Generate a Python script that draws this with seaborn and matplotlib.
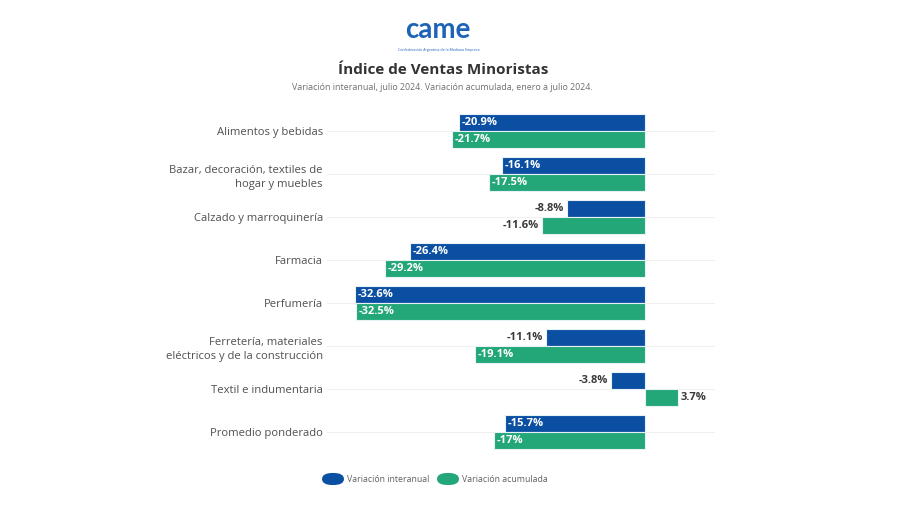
import pandas as pd
import matplotlib.pyplot as plt
from matplotlib.patches import FancyBboxPatch
import seaborn as sns

# Data
categories = [
    "Alimentos y bebidas",
    "Bazar, decoración, textiles de\nhogar y muebles",
    "Calzado y marroquinería",
    "Farmacia",
    "Perfumería",
    "Ferretería, materiales\neléctricos y de la construcción",
    "Textil e indumentaria",
    "Promedio ponderado",
]
interanual = [-20.9, -16.1, -8.8, -26.4, -32.6, -11.1, -3.8, -15.7]
acumulada = [-21.7, -17.5, -11.6, -29.2, -32.5, -19.1, 3.7, -17.0]
interanual_labels = ["-20.9%", "-16.1%", "-8.8%", "-26.4%", "-32.6%", "-11.1%", "-3.8%", "-15.7%"]
acumulada_labels = ["-21.7%", "-17.5%", "-11.6%", "-29.2%", "-32.5%", "-19.1%", "3.7%", "-17%"]
series = ["Variación interanual", "Variación acumulada"]

BLUE = "#0b4fa3"
GREEN = "#23a778"

df = pd.DataFrame({
    "categoria": categories * 2,
    "serie": [series[0]] * len(categories) + [series[1]] * len(categories),
    "valor": interanual + acumulada,
})

sns.set_style("white")
plt.rcParams["font.family"] = ["Open Sans", "DejaVu Sans"]

fig = plt.figure(figsize=(9, 5.05), dpi=100)
ax = fig.add_axes([327 / 900, 1 - 453.5 / 505, (715 - 327) / 900, 344 / 505])

sns.barplot(data=df, y="categoria", x="valor", hue="serie", orient="h",
            palette=[BLUE, GREEN], saturation=1, width=0.8, edgecolor="#e8f1f6",
            linewidth=0.8, legend=False, ax=ax)

ax.set_xlim(-(645 - 327) / 8.9, (715 - 645) / 8.9)
ax.set_ylim(7.5, -0.5)
ax.set_xlabel("")
ax.set_ylabel("")
ax.set_xticks([])
ax.grid(axis="y", color="#f0f0f0", linewidth=0.8)
ax.set_axisbelow(True)
for s in ax.spines.values():
    s.set_visible(False)
ax.tick_params(axis="y", length=0, pad=3, labelsize=8.1, labelcolor="#505050")
for t in ax.get_yticklabels():
    t.set_linespacing(1.5)

# value labels
for cont, labels in zip(ax.containers, [interanual_labels, acumulada_labels]):
    for bar, lab in zip(cont, labels):
        v = bar.get_width()
        yc = bar.get_y() + bar.get_height() / 2
        if abs(v) >= 13:
            ax.text(v + 0.3, yc, lab, ha="left", va="center", color="white",
                    fontsize=8, fontweight="bold")
        elif v < 0:
            ax.text(v - 0.35, yc, lab, ha="right", va="center", color="#3a3a3a",
                    fontsize=8, fontweight="bold")
        else:
            ax.text(v + 0.35, yc, lab, ha="left", va="center", color="#3a3a3a",
                    fontsize=8, fontweight="bold")

# header: logo, title, subtitle
fig.text(0.487, 1 - 30 / 505, "came", ha="center", va="center", color="#1d63b8",
         fontsize=20, fontweight="bold", family=["Lato", "DejaVu Sans"])
fig.text(0.487, 1 - 50 / 505, "Confederación Argentina de la Mediana Empresa",
         ha="center", va="center", color="#1d63b8", fontsize=2.6)
fig.text(0.492, 1 - 70 / 505, "Índice de Ventas Minoristas", ha="center", va="center",
         color="#333333", fontsize=11, fontweight="bold")
fig.text(0.492, 1 - 88 / 505,
         "Variación interanual, julio 2024. Variación acumulada, enero a julio 2024.",
         ha="center", va="center", color="#707070", fontsize=6.4)

# legend with pill markers
leg_y = 1 - 479 / 505
items = [(322, BLUE, series[0]), (437, GREEN, series[1])]
for x0, col, lab in items:
    pill = FancyBboxPatch((x0 / 900, leg_y - 0.012), 22 / 900, 0.024,
                          boxstyle="round,pad=0,rounding_size=0.012",
                          transform=fig.transFigure, facecolor=col, edgecolor="none")
    fig.patches.append(pill)
    fig.text((x0 + 25) / 900, leg_y, lab, ha="left", va="center",
             color="#606060", fontsize=6.3)

fig.savefig("out.png", dpi=100)
